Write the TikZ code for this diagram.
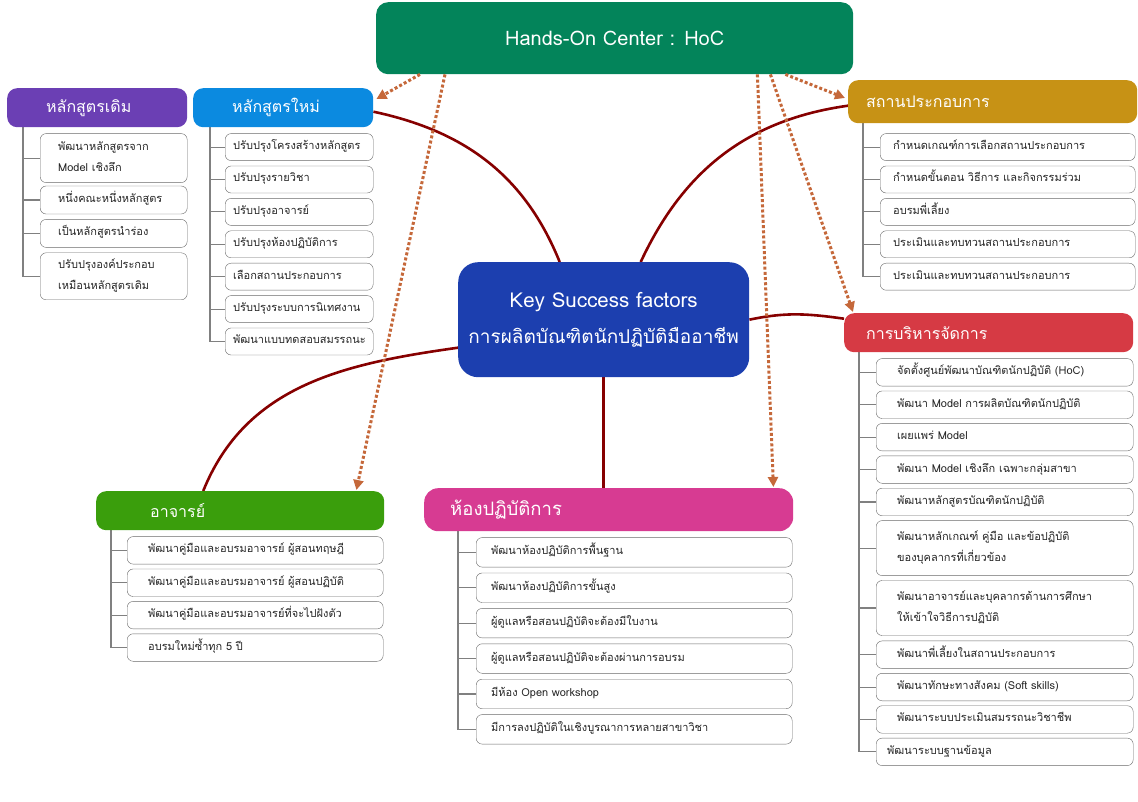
\documentclass[tikz,border=0pt]{standalone}
\usepackage{fontspec}
\setmainfont{Loma}[Script=Thai]
\usetikzlibrary{arrows.meta,positioning,backgrounds}
\definecolor{hocgreen}{HTML}{03845A}
\definecolor{ksblue}{HTML}{1C3FAF}
\definecolor{oldpurple}{HTML}{6B3FB4}
\definecolor{newblue}{HTML}{0B8AE0}
\definecolor{firmgold}{HTML}{C79215}
\definecolor{mgmtred}{HTML}{D63A44}
\definecolor{tchgreen}{HTML}{3A9E0C}
\definecolor{labpink}{HTML}{D73B92}
\definecolor{linkred}{HTML}{860000}
\definecolor{hintbrown}{HTML}{C5683A}
\definecolor{boxgray}{HTML}{6A6A6A}
\definecolor{twiggray}{HTML}{808080}

\begin{document}
\begin{tikzpicture}[x=1pt,y=1pt,
  hdr/.style={rounded corners=10pt,text=white,anchor=north west,inner ysep=0pt,align=left,font=\fontsize{16}{18}\selectfont},
  item/.style={draw=boxgray,fill=white,rounded corners=6pt,align=left,anchor=north west,inner ysep=0pt,text height=8pt,text depth=3pt,font=\fontsize{11}{21}\selectfont,text=black!85},
  two/.style={text depth=24pt},
  itOld/.style={item,inner xsep=18pt,text width=111pt,minimum height=28pt},
  itNew/.style={item,inner xsep=8pt,text width=132pt,minimum height=27pt},
  itFirm/.style={item,inner xsep=13pt,text width=229pt,minimum height=27pt},
  itMgmt/.style={item,inner xsep=21pt,text width=215pt,minimum height=27.5pt},
  itTch/.style={item,inner xsep=21pt,text width=214pt,minimum height=27.5pt},
  itLab/.style={item,inner xsep=15pt,text width=286pt,minimum height=29.5pt},
  twig/.style={draw=twiggray,line width=1.1pt},
  link/.style={draw=linkred,line width=2.6pt},
  hint/.style={draw=hintbrown,line width=3pt,dash pattern=on 3pt off 2.2pt,-{Triangle[length=10pt,width=10pt]}}]
\useasboundingbox (0,0) rectangle (1138,-802);

% centre and HoC
\node[rounded corners=12pt,fill=hocgreen,text=white,anchor=north west,minimum width=477pt,minimum height=72pt,font=\fontsize{20}{24}\selectfont] (hoc) at (376,-2) {Hands-On Center : HoC};
\node[rounded corners=20pt,fill=ksblue,text=white,anchor=north west,minimum width=291pt,minimum height=115pt,align=center,font=\fontsize{19}{36}\selectfont] (ks) at (458,-262) {{\fontsize{20.5}{36}\selectfont Key Success factors}\\การผลิตบัณฑิตนักปฏิบัติมืออาชีพ};

% หลักสูตรเดิม
\node[hdr,fill=oldpurple,inner xsep=39pt,text width=102pt,minimum height=39pt] (old) at (7,-88) {หลักสูตรเดิม};
\node[itOld,two,minimum height=49pt,below=6pt of old.south west,xshift=33pt,anchor=north west] (old1) {พัฒนาหลักสูตรจาก\\Model เชิงลึก};
\node[itOld,below=3pt of old1.south west,anchor=north west] (old2) {หนึ่งคณะหนึ่งหลักสูตร};
\node[itOld,below=5pt of old2.south west,anchor=north west] (old3) {เป็นหลักสูตรนำร่อง};
\node[itOld,two,minimum height=47pt,below=5pt of old3.south west,anchor=north west] (old4) {ปรับปรุงองค์ประกอบ\\เหมือนหลักสูตรเดิม};

% หลักสูตรใหม่
\node[hdr,fill=newblue,inner xsep=39pt,text width=102pt,minimum height=39pt] (new) at (193,-88) {หลักสูตรใหม่};
\node[itNew,below=6pt of new.south west,xshift=32pt,anchor=north west] (new1) {ปรับปรุงโครงสร้างหลักสูตร};
\node[itNew,below=5pt of new1.south west,anchor=north west] (new2) {ปรับปรุงรายวิชา};
\node[itNew,below=5pt of new2.south west,anchor=north west] (new3) {ปรับปรุงอาจารย์};
\node[itNew,below=5pt of new3.south west,anchor=north west] (new4) {ปรับปรุงห้องปฏิบัติการ};
\node[itNew,below=5pt of new4.south west,anchor=north west] (new5) {เลือกสถานประกอบการ};
\node[itNew,below=5pt of new5.south west,anchor=north west] (new6) {ปรับปรุงระบบการนิเทศงาน};
\node[itNew,below=5pt of new6.south west,anchor=north west] (new7) {พัฒนาแบบทดสอบสมรรถนะ};

% สถานประกอบการ
\node[hdr,fill=firmgold,inner xsep=18pt,text width=253pt,minimum height=43pt] (firm) at (848,-80) {สถานประกอบการ};
\node[itFirm,below=10pt of firm.south west,xshift=32pt,anchor=north west] (firm1) {กำหนดเกณฑ์การเลือกสถานประกอบการ};
\node[itFirm,below=5pt of firm1.south west,anchor=north west] (firm2) {กำหนดขั้นตอน~วิธีการ~และกิจกรรมร่วม};
\node[itFirm,below=5pt of firm2.south west,anchor=north west] (firm3) {อบรมพี่เลี้ยง};
\node[itFirm,below=5pt of firm3.south west,anchor=north west] (firm4) {ประเมินและทบทวนสถานประกอบการ};
\node[itFirm,below=5pt of firm4.south west,anchor=north west] (firm5) {ประเมินและทบทวนสถานประกอบการ};

% การบริหารจัดการ
\node[hdr,fill=mgmtred,inner xsep=22pt,text width=245pt,minimum height=39pt] (mgmt) at (844,-313) {การบริหารจัดการ};
\node[itMgmt,below=6pt of mgmt.south west,xshift=32pt,anchor=north west] (mgmt1) {จัดตั้งศูนย์พัฒนาบัณฑิตนักปฏิบัติ~(HoC)};
\node[itMgmt,below=4.5pt of mgmt1.south west,anchor=north west] (mgmt2) {พัฒนา~Model~การผลิตบัณฑิตนักปฏิบัติ};
\node[itMgmt,below=4.5pt of mgmt2.south west,anchor=north west] (mgmt3) {เผยแพร่~Model};
\node[itMgmt,below=4.5pt of mgmt3.south west,anchor=north west] (mgmt4) {พัฒนา~Model~เชิงลึก~เฉพาะกลุ่มสาขา};
\node[itMgmt,below=4.5pt of mgmt4.south west,anchor=north west] (mgmt5) {พัฒนาหลักสูตรบัณฑิตนักปฏิบัติ};
\node[itMgmt,two,minimum height=55pt,below=4.5pt of mgmt5.south west,anchor=north west] (mgmt6) {พัฒนาหลักเกณฑ์~คู่มือ~และข้อปฏิบัติ\\ของบุคลากรที่เกี่ยวข้อง};
\node[itMgmt,two,minimum height=55pt,below=4.5pt of mgmt6.south west,anchor=north west] (mgmt7) {พัฒนาอาจารย์และบุคลากรด้านการศึกษา\\ให้เข้าใจวิธีการปฏิบัติ};
\node[itMgmt,below=5pt of mgmt7.south west,anchor=north west] (mgmt8) {พัฒนาพี่เลี้ยงในสถานประกอบการ};
\node[itMgmt,below=4.5pt of mgmt8.south west,anchor=north west] (mgmt9) {พัฒนาทักษะทางสังคม~(Soft~skills)};
\node[itMgmt,below=4.5pt of mgmt9.south west,anchor=north west] (mgmt10) {พัฒนาระบบประเมินสมรรถนะวิชาชีพ};
\node[itMgmt,inner xsep=11pt,text width=235pt,below=4.5pt of mgmt10.south west,anchor=north west] (mgmt11) {พัฒนาระบบฐานข้อมูล};

% อาจารย์
\node[hdr,fill=tchgreen,inner xsep=54pt,text width=180pt,minimum height=39pt] (tch) at (96,-491) {อาจารย์};
\node[itTch,below=6pt of tch.south west,xshift=31pt,anchor=north west] (tch1) {พัฒนาคู่มือและอบรมอาจารย์~ผู้สอนทฤษฎี};
\node[itTch,below=4.5pt of tch1.south west,anchor=north west] (tch2) {พัฒนาคู่มือและอบรมอาจารย์~ผู้สอนปฏิบัติ};
\node[itTch,below=4.5pt of tch2.south west,anchor=north west] (tch3) {พัฒนาคู่มือและอบรมอาจารย์ที่จะไปฝังตัว};
\node[itTch,below=4.5pt of tch3.south west,anchor=north west] (tch4) {อบรมใหม่ซ้ำทุก~5~ปี};

% ห้องปฏิบัติการ
\node[hdr,fill=labpink,rounded corners=14pt,inner xsep=26pt,text width=317pt,minimum height=43pt,font=\fontsize{18.5}{20}\selectfont] (lab) at (424,-488) {ห้องปฏิบัติการ};
\node[itLab,below=6pt of lab.south west,xshift=52pt,anchor=north west] (lab1) {พัฒนาห้องปฏิบัติการพื้นฐาน};
\node[itLab,below=5.5pt of lab1.south west,anchor=north west] (lab2) {พัฒนาห้องปฏิบัติการขั้นสูง};
\node[itLab,below=5.5pt of lab2.south west,anchor=north west] (lab3) {ผู้ดูแลหรือสอนปฏิบัติจะต้องมีใบงาน};
\node[itLab,below=5.5pt of lab3.south west,anchor=north west] (lab4) {ผู้ดูแลหรือสอนปฏิบัติจะต้องผ่านการอบรม};
\node[itLab,below=5.5pt of lab4.south west,anchor=north west] (lab5) {มีห้อง~Open~workshop};
\node[itLab,below=5.5pt of lab5.south west,anchor=north west] (lab6) {มีการลงปฏิบัติในเชิงบูรณาการหลายสาขาวิชา};

\begin{scope}[on background layer]
% tree lines
\coordinate (oldT) at ([xshift=16pt]old.south west);
\draw[twig] (oldT) |- (old1.west) (oldT) |- (old2.west) (oldT) |- (old3.west) (oldT) |- (old4.west);
\coordinate (newT) at ([xshift=17pt]new.south west);
\draw[twig] (newT) |- (new1.west) (newT) |- (new2.west) (newT) |- (new3.west) (newT) |- (new4.west) (newT) |- (new5.west) (newT) |- (new6.west) (newT) |- (new7.west);
\coordinate (firmT) at ([xshift=15pt]firm.south west);
\draw[twig] (firmT) |- (firm1.west) (firmT) |- (firm2.west) (firmT) |- (firm3.west) (firmT) |- (firm4.west) (firmT) |- (firm5.west);
\coordinate (mgmtT) at ([xshift=15pt]mgmt.south west);
\draw[twig] (mgmtT) |- (mgmt1.west) (mgmtT) |- (mgmt2.west) (mgmtT) |- (mgmt3.west) (mgmtT) |- (mgmt4.west) (mgmtT) |- (mgmt5.west) (mgmtT) |- (mgmt6.west) (mgmtT) |- (mgmt7.west) (mgmtT) |- (mgmt8.west) (mgmtT) |- (mgmt9.west) (mgmtT) |- (mgmt10.west) (mgmtT) |- (mgmt11.west);
\coordinate (tchT) at ([xshift=15pt]tch.south west);
\draw[twig] (tchT) |- (tch1.west) (tchT) |- (tch2.west) (tchT) |- (tch3.west) (tchT) |- (tch4.west);
\coordinate (labT) at ([xshift=34pt]lab.south west);
\draw[twig] (labT) |- (lab1.west) (labT) |- (lab2.west) (labT) |- (lab3.west) (labT) |- (lab4.west) (labT) |- (lab5.west) (labT) |- (lab6.west);
% links from the centre
\draw[link] ([xshift=-44pt]ks.north) to[out=112,in=-12] ([yshift=-4pt]new.east);
\draw[link] ([xshift=37pt]ks.north) to[out=65,in=188] ([yshift=-4pt]firm.west);
\draw[link] (ks.east) to[out=12,in=172] ([yshift=14pt]mgmt.west);
\draw[link] ([yshift=-28pt]ks.west) to[out=188,in=68] ([xshift=-37pt]tch.north);
\draw[link] (ks.south) -- (ks.south |- lab.north);
\end{scope}

% dotted hints from HoC
\draw[hint] ([xshift=44pt]hoc.south west) -- ([xshift=3pt,yshift=-11pt]new.north east);
\draw[hint] ([xshift=69pt]hoc.south west) -- ([xshift=-28pt,yshift=1pt]tch.north east);
\draw[hint] ([xshift=-96pt]hoc.south east) -- ([xshift=-20pt,yshift=1pt]lab.north east);
\draw[hint] ([xshift=-83pt]hoc.south east) -- ([xshift=9pt,yshift=1pt]mgmt.north west);
\draw[hint] ([xshift=-68pt]hoc.south east) -- ([xshift=-3pt,yshift=-18pt]firm.north west);
\end{tikzpicture}
\end{document}
